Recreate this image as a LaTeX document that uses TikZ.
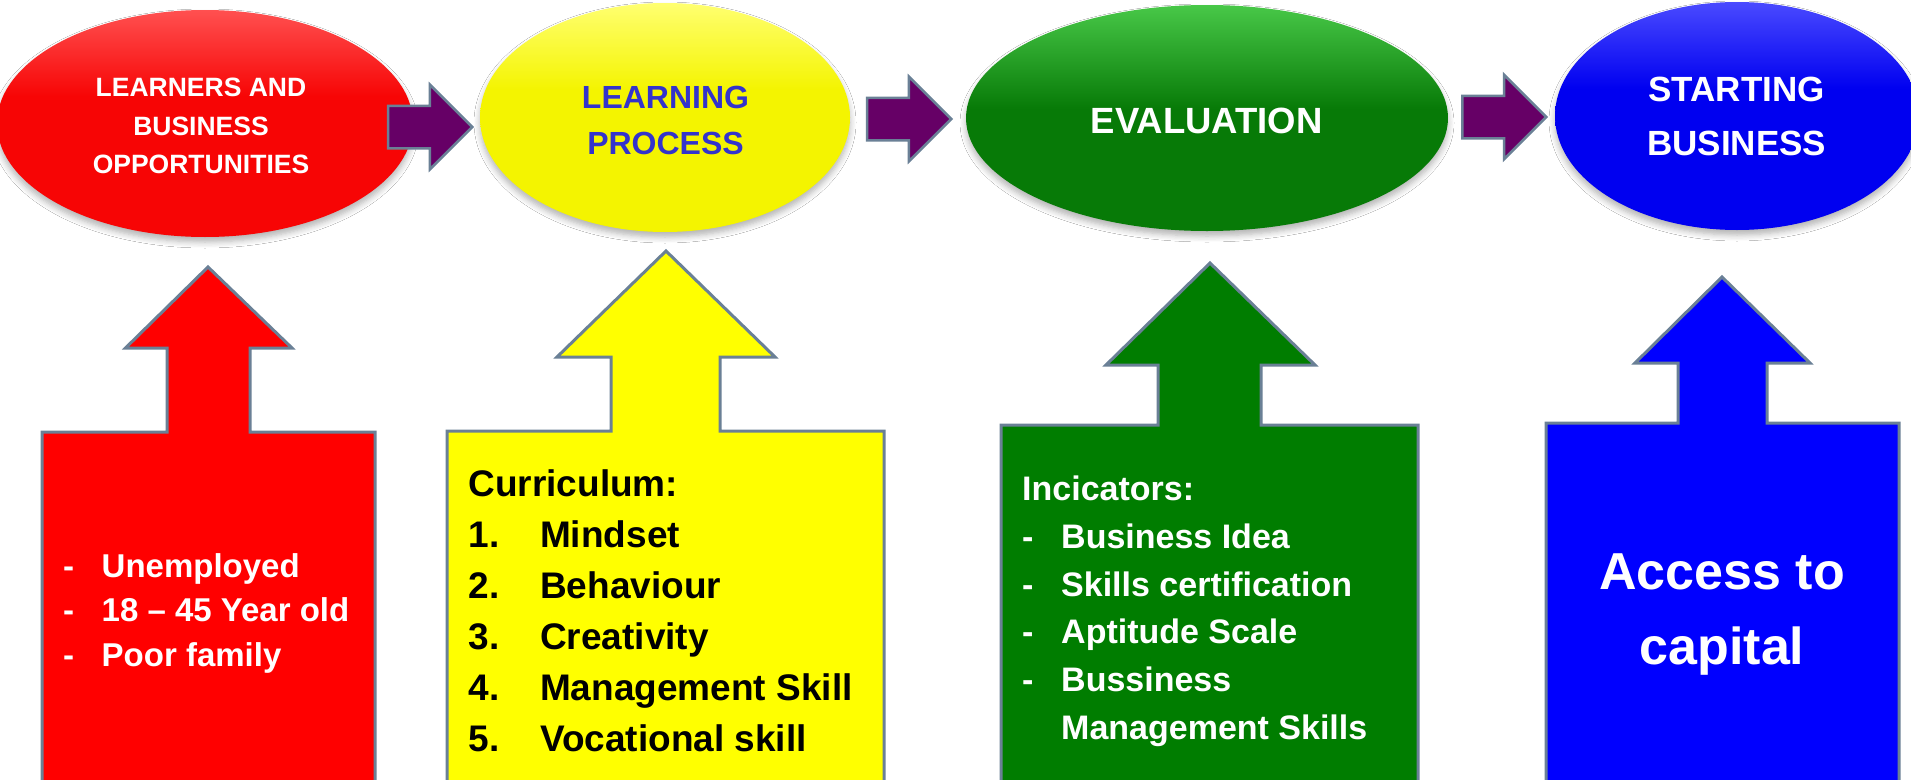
\documentclass[tikz,border=0pt]{standalone}
\usepackage{fontspec}
\setmainfont{Liberation Sans}
\usetikzlibrary{shapes.geometric,shapes.arrows,shadows.blur}

% palette
\definecolor{edgegray}{HTML}{6A8096}
\definecolor{plum}{HTML}{660066}
\definecolor{rbase}{HTML}{F70505}
\definecolor{rtop}{HTML}{FF5050}
\definecolor{ybase}{HTML}{F4F400}
\definecolor{ytop}{HTML}{FFFF70}
\definecolor{gbase}{HTML}{077A07}
\definecolor{gtop}{HTML}{48C848}
\definecolor{bbase}{HTML}{0000F0}
\definecolor{btop}{HTML}{4A4AFF}
\definecolor{procblue}{HTML}{3333CC}
\definecolor{boxred}{HTML}{FF0000}
\definecolor{boxyellow}{HTML}{FFFF00}
\definecolor{boxgreen}{HTML}{007D00}
\definecolor{boxblue}{HTML}{0000FF}

% glossy fills for the stage ellipses (lighter towards the top rim)
\pgfdeclareverticalshading{glossred}{100bp}{color(0bp)=(rbase); color(25bp)=(rbase); color(56bp)=(rbase); color(75bp)=(rtop); color(100bp)=(rtop)}
\pgfdeclareverticalshading{glossyellow}{100bp}{color(0bp)=(ybase); color(25bp)=(ybase); color(56bp)=(ybase); color(75bp)=(ytop); color(100bp)=(ytop)}
\pgfdeclareverticalshading{glossgreen}{100bp}{color(0bp)=(gbase); color(25bp)=(gbase); color(52bp)=(gbase); color(75bp)=(gtop); color(100bp)=(gtop)}
\pgfdeclareverticalshading{glossblue}{100bp}{color(0bp)=(bbase); color(25bp)=(bbase); color(56bp)=(bbase); color(75bp)=(btop); color(100bp)=(btop)}

\newcommand\setfs[2]{\fontsize{#1}{#2}\selectfont}

\tikzset{
  stage/.style={ellipse, inner sep=0pt, draw=none,
    blur shadow={shadow xshift=0pt, shadow yshift=-5pt, shadow blur radius=6pt,
                 shadow blur steps=6, shadow opacity=30}},
  flowarrow/.style={single arrow, fill=plum, draw=edgegray, line width=2.5pt,
    inner xsep=0pt, inner ysep=20pt, single arrow head extend=21pt,
    single arrow tip angle=90, minimum height=84pt, anchor=tip},
  callout/.style={draw=edgegray, line width=3pt},
  caption/.style={anchor=base, inner sep=0pt, font=\bfseries},
  listtext/.style={anchor=base west, inner sep=0pt, font=\bfseries},
}

\begin{document}
\begin{tikzpicture}[x=1pt, y=-1pt]
  \fill[white] (0,0) rectangle (1911,779);
  \useasboundingbox (0,0) rectangle (1911,779);

  % stages
  \node[stage, shading=glossred,    minimum width=416pt, minimum height=227pt] (learners)   at (205,123.5) {};
  \node[stage, shading=glossyellow, minimum width=370pt, minimum height=229pt] (learning)   at (665,117.5) {};
  \node[stage, shading=glossgreen,  minimum width=482pt, minimum height=226pt] (evaluation) at (1207,118) {};
  \node[stage, shading=glossblue,   minimum width=364pt, minimum height=228pt] (starting)   at (1737,116) {};

  % flow arrows between stages
  \node[flowarrow] (flow1) at (474,127) {};
  \node[flowarrow] (flow2) at (953,119) {};
  \node[flowarrow] (flow3) at (1548,117) {};

  % callout boxes with upward arrows
  \path[callout, fill=boxred]
    (42,790) -- (42,432) -- (167,432) -- (167,348) -- (125.5,348) -- (208,267)
    -- (292,348) -- (250,348) -- (250,432) -- (375,432) -- (375,790);
  \path[callout, fill=boxyellow]
    (447,790) -- (447,431) -- (611,431) -- (611,357) -- (557,357) -- (666,251)
    -- (775,357) -- (720,357) -- (720,431) -- (884,431) -- (884,790);
  \path[callout, fill=boxgreen]
    (1001,790) -- (1001,425) -- (1158,425) -- (1158,365) -- (1106,365) -- (1210,263)
    -- (1315,365) -- (1261,365) -- (1261,425) -- (1418,425) -- (1418,790);
  \path[callout, fill=boxblue]
    (1546,790) -- (1546,423) -- (1678,423) -- (1678,363) -- (1635,363) -- (1722,277)
    -- (1810,363) -- (1767,363) -- (1767,423) -- (1899,423) -- (1899,790);

  % stage titles
  \node[caption, text=white, font=\bfseries\setfs{26.5}{38.5}] (learnerstitle) at (201,96.7)
    {\begin{tabular}[t]{@{}c@{}}LEARNERS AND\\BUSINESS\\OPPORTUNITIES\end{tabular}};
  \node[caption, text=procblue, font=\bfseries\setfs{32}{46}] (learningtitle) at (665.5,108)
    {\begin{tabular}[t]{@{}c@{}}LEARNING\\PROCESS\end{tabular}};
  \node[caption, text=white, font=\bfseries\setfs{36.5}{44}] (evaluationtitle) at (1206.6,133)
    {EVALUATION};
  \node[caption, text=white, font=\bfseries\setfs{35}{54}] (startingtitle) at (1736.7,101.7)
    {\begin{tabular}[t]{@{}c@{}}STARTING\\BUSINESS\end{tabular}};

  % callout contents
  \node[listtext, text=white, font=\bfseries\setfs{33}{44.7}] (learnerslist) at (63,577)
    {\begin{tabular}[t]{@{}p{38.5pt}@{}l@{}}
      -&Unemployed\\
      -&18 – 45 Year old\\
      -&Poor family
    \end{tabular}};
  \node[listtext, text=black, font=\bfseries\setfs{37}{51.1}] (curriculum) at (468.3,496)
    {\begin{tabular}[t]{@{}p{71.7pt}@{}l@{}}
      \multicolumn{2}{@{}l@{}}{Curriculum:}\\
      1.&Mindset\\
      2.&Behaviour\\
      3.&Creativity\\
      4.&Management Skill\\
      5.&Vocational skill
    \end{tabular}};
  \node[listtext, text=white, font=\bfseries\setfs{34}{47.8}] (indicators) at (1022,500.5)
    {\begin{tabular}[t]{@{}p{39pt}@{}l@{}}
      \multicolumn{2}{@{}l@{}}{Incicators:}\\
      -&Business Idea\\
      -&Skills certification\\
      -&Aptitude Scale\\
      -&Bussiness\\
      &Management Skills
    \end{tabular}};
  \node[caption, text=white, font=\bfseries\setfs{52}{75.6}] (capital) at (1722,589)
    {\begin{tabular}[t]{@{}c@{}}Access to\\capital\end{tabular}};
\end{tikzpicture}
\end{document}
